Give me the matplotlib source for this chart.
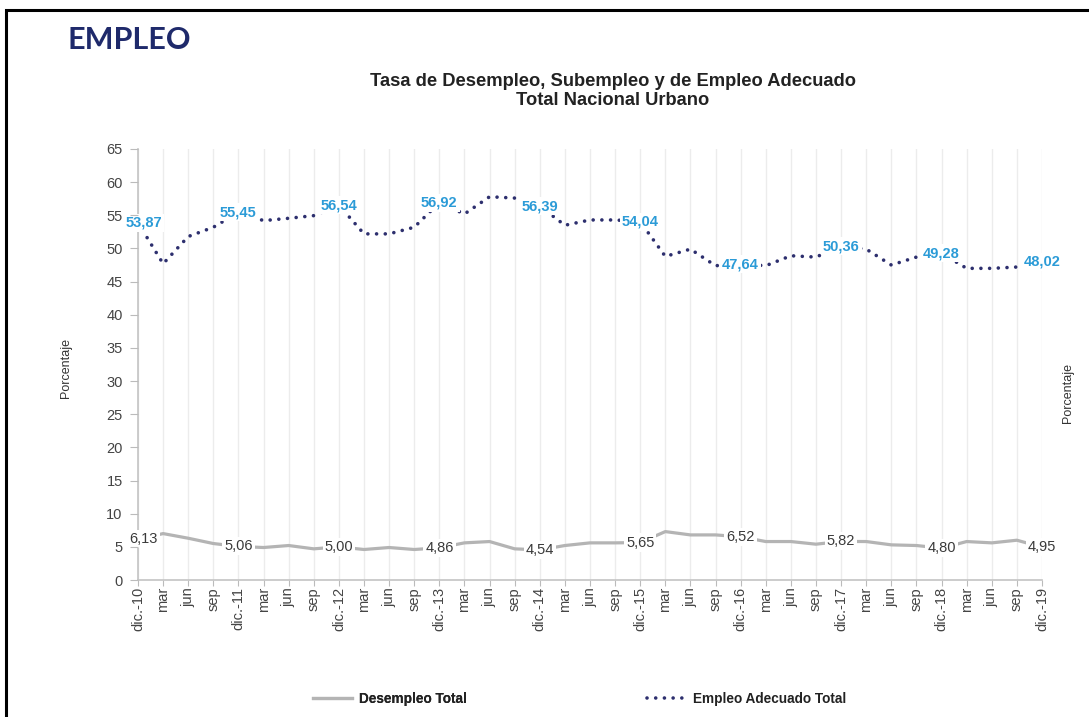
import matplotlib
matplotlib.use("Agg")
import matplotlib.pyplot as plt
from matplotlib.patches import Rectangle
from matplotlib.lines import Line2D
import numpy as np

plt.rcParams['font.family'] = ['Liberation Sans', 'DejaVu Sans']

# quarterly periods, dic-10 .. dic-19
periodos = ["dic.-10"]
for anio in range(11, 20):
	periodos += ["mar", "jun", "sep", "dic.-%d" % anio]

desempleo = [6.13, 7.0, 6.3, 5.5,
	5.06, 4.9, 5.2, 4.7,
	5.00, 4.6, 4.9, 4.6,
	4.86, 5.6, 5.8, 4.7,
	4.54, 5.2, 5.6, 5.6,
	5.65, 7.3, 6.8, 6.8,
	6.52, 5.8, 5.8, 5.4,
	5.82, 5.8, 5.3, 5.2,
	4.80, 5.8, 5.6, 6.0,
	4.95]

empleo_adecuado = [53.87, 47.7, 51.8, 53.2,
	55.45, 54.2, 54.55, 54.95,
	56.54, 52.2, 52.2, 53.2,
	56.92, 55.2, 57.8, 57.6,
	56.39, 53.5, 54.3, 54.3,
	54.04, 48.8, 49.9, 47.4,
	47.64, 47.4, 48.9, 48.7,
	50.36, 49.9, 47.5, 48.7,
	49.28, 47.0, 47.0, 47.2,
	48.02]

gris = '#b4b4b4'
azul = '#2d2f6e'
celeste = '#2b9bd7'
puntos = (0, (0.01, 2.4))


def fmt(v):
	return ("%.2f" % v).replace(".", ",")


def main():
	fig = plt.figure(figsize=(10.89, 7.17), dpi=100)

	# page frame
	fig.patches.append(Rectangle((6 / 1089, -0.05), 1.2, 1 - 10 / 717 + 0.05,
		transform=fig.transFigure, fill=False, ec='black', lw=2.2))

	fig.text(67 / 1089, 1 - 40 / 717, "EMPLEO", fontsize=22, fontweight='bold',
		color='#1f2a6b', family=['Lato', 'DejaVu Sans'], va='center', ha='left')
	fig.text(613 / 1089, 1 - 91 / 717,
		"Tasa de Desempleo, Subempleo y de Empleo Adecuado\nTotal Nacional Urbano",
		fontsize=13.2, fontweight='bold', color='#222222', ha='center', va='center',
		linespacing=1.15)

	ax = fig.add_axes([138 / 1089, 1 - 580 / 717, (1042 - 138) / 1089, (580 - 149) / 717])
	x = np.arange(len(periodos))

	ax.plot(x, desempleo, color=gris, lw=2.3, solid_capstyle='round', zorder=2)
	ax.plot(x, empleo_adecuado, color=azul, lw=2.6, linestyle=puntos,
		dash_capstyle='round', zorder=2)

	# value labels every four quarters (first pair nudged off the y tick labels)
	for i in range(0, len(periodos), 4):
		dx = 4 if i == 0 else 0
		ax.annotate(fmt(desempleo[i]), (x[i], desempleo[i]), xytext=(dx, 0),
			textcoords='offset points', ha='center', va='center',
			fontsize=10.5, color='#3a3a3a', zorder=3,
			bbox=dict(fc='white', ec='none', pad=1.5))
		ax.annotate(fmt(empleo_adecuado[i]), (x[i], empleo_adecuado[i]), xytext=(dx, 0),
			textcoords='offset points', ha='center', va='center',
			fontsize=10.5, fontweight='bold', color=celeste, zorder=3,
			bbox=dict(fc='white', ec='none', pad=1.5))

	ax.set_xlim(0, len(periodos) - 1)
	ax.set_ylim(0, 65)
	ax.set_yticks(np.arange(0, 70, 5))
	ax.set_xticks(x)
	ax.set_xticklabels(periodos, rotation=90, fontsize=10.5, color='#444444')
	ax.tick_params(axis='y', labelsize=10.5, labelcolor='#444444', color='#bbbbbb',
		length=6, pad=5)
	ax.tick_params(axis='x', color='#bbbbbb', length=4, pad=1)

	ax.grid(axis='x', color='#ececec', lw=1)
	ax.set_axisbelow(True)
	ax.yaxis.set_zorder(4)
	for s in ['top', 'right']:
		ax.spines[s].set_visible(False)
	ax.spines['left'].set_color('#c4c4c4')
	ax.spines['bottom'].set_color('#c4c4c4')
	ax.spines['left'].set_linewidth(1.2)
	ax.spines['bottom'].set_linewidth(1.2)

	fig.text(66 / 1089, 1 - 368 / 717, "Porcentaje", rotation=90, fontsize=9,
		color='#333333', ha='center', va='center')
	fig.text(1068 / 1089, 1 - 393 / 717, "Porcentaje", rotation=90, fontsize=9,
		color='#333333', ha='center', va='center')

	# legend below the plot, one entry each
	leg_y = 1 - 699 / 717
	l1 = fig.legend([Line2D([], [], color=gris, lw=2.3)], ["Desempleo Total"],
		loc='center left', bbox_to_anchor=(313 / 1089, leg_y), frameon=False,
		prop=dict(weight='bold', size=9.8), handlelength=2.9, handletextpad=0.5,
		borderpad=0, borderaxespad=0, labelcolor='#222222')
	fig.add_artist(l1)
	fig.legend([Line2D([], [], color=azul, lw=2.6, linestyle=puntos, dash_capstyle='round')],
		["Empleo Adecuado Total"], loc='center left',
		bbox_to_anchor=(647 / 1089, leg_y), frameon=False,
		prop=dict(weight='bold', size=9.8), handlelength=2.6, handletextpad=0.8,
		borderpad=0, borderaxespad=0, labelcolor='#222222')

	fig.savefig("out.png", dpi=100)


if __name__ == "__main__":
	main()
